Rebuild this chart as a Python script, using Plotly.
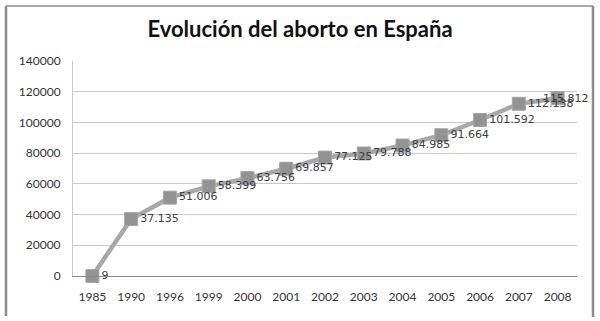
import plotly.graph_objects as go

years = ["1985", "1990", "1996", "1999", "2000", "2001", "2002", "2003", "2004", "2005", "2006", "2007", "2008"]
abortos = [9, 37135, 51006, 58399, 63756, 69857, 77125, 79788, 84985, 91664, 101592, 112138, 115812]
y_ticks = [0, 20000, 40000, 60000, 80000, 100000, 120000, 140000]

labels = [f"{v:,}".replace(",", ".") for v in abortos]
trace_labels = labels[:-1] + [""]

fig = go.Figure()
fig.add_trace(go.Scatter(
    x=years, y=abortos, mode="lines+markers+text",
    line=dict(color="#a8a8a8", width=4.5),
    marker=dict(symbol="square", size=13, color="#939393",
                line=dict(color="#a5a5a5", width=1)),
    text=trace_labels, textposition="middle right",
    textfont=dict(family="DejaVu Sans", size=11, color="#404040"),
    cliponaxis=False, hoverinfo="skip",
))

L, T, W, H = 73, 61, 504, 215
def px(x): return (x - L) / W
def py(y): return (T + H - y) / H

shapes = [
    dict(type="line", xref="paper", yref="paper", x0=px(6), x1=px(593), y0=py(6), y1=py(6),
         line=dict(color="#8c8c8c", width=1.5)),
    dict(type="line", xref="paper", yref="paper", x0=px(6), x1=px(6), y0=py(6), y1=py(316),
         line=dict(color="#8c8c8c", width=2.5)),
    dict(type="line", xref="paper", yref="paper", x0=px(593), x1=px(593), y0=py(6), y1=py(317),
         line=dict(color="#8c8c8c", width=2.5)),
]

annotations = [dict(x=len(years) - 1, y=abortos[-1], xref="x", yref="y", text=labels[-1],
                    showarrow=False, xanchor="center", yanchor="middle", xshift=8,
                    font=dict(family="DejaVu Sans", size=11, color="#404040"))]

fig.update_layout(
    width=600, height=321,
    margin=dict(l=L, r=600 - L - W, t=T, b=321 - T - H),
    paper_bgcolor="white", plot_bgcolor="white",
    showlegend=False,
    title=dict(text="Evolución del aborto en España", x=0.5, xref="container", xanchor="center",
               y=1 - 29 / 321, yref="container", yanchor="middle",
               font=dict(family="Lato", size=22, color="#111111", weight="bold")),
    xaxis=dict(type="category", range=[-0.5, 12.5], showgrid=False, showline=True,
               linecolor="#8a8a8a", linewidth=1,
               ticks="", tickfont=dict(family="Lato", size=12, color="#333333"),
               ticklabelstandoff=10, fixedrange=True),
    yaxis=dict(range=[0, 140000], tickvals=y_ticks, ticktext=[str(v) for v in y_ticks],
               showgrid=True, gridcolor="#c8c8c8", gridwidth=1,
               showline=True, linecolor="#c8c8c8", zeroline=False,
               ticks="", tickfont=dict(family="Lato", size=12, color="#333333"),
               ticklabelstandoff=9, fixedrange=True),
    shapes=shapes,
    annotations=annotations,
)

fig.write_html("out.html")
